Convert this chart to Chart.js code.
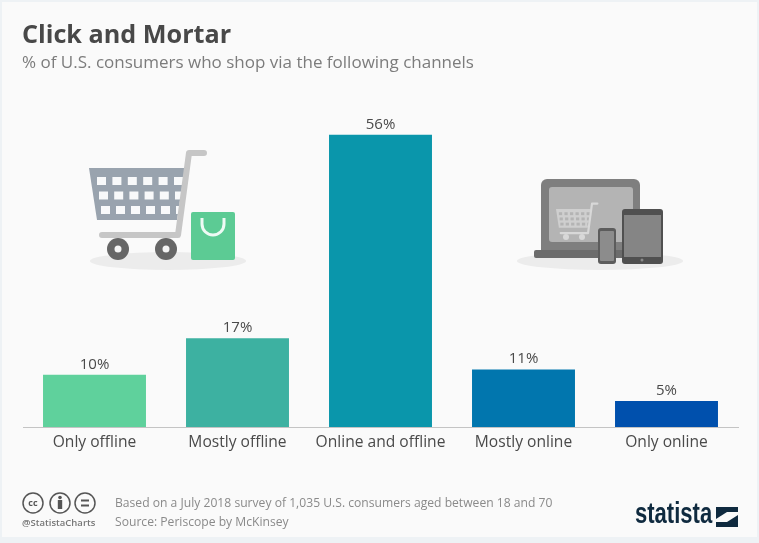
<!DOCTYPE html>
<html>
<head>
<meta charset="utf-8">
<script src="https://cdn.jsdelivr.net/npm/chart.js@4"></script>
<style>
html, body { margin: 0; padding: 0; width: 759px; height: 543px; overflow: hidden; background: #eef2f5; font-family: "Open Sans", sans-serif; }
#card { position: absolute; left: 2px; top: 2px; width: 755px; height: 535px; background: #fafafa; }
#chartBox { position: absolute; left: 0; top: 0; width: 759px; height: 543px; }
.txt { position: absolute; white-space: nowrap; }
#title { left: 22px; top: 16px; font-size: 25.2px; font-weight: 700; color: #484848; }
#subtitle { left: 22px; top: 50px; font-size: 17px; color: #7c7c7c; }
#note { left: 115px; top: 493px; font-size: 13px; color: #8a8a8a; transform: scaleX(0.933); transform-origin: left; }
#source { left: 115px; top: 512px; font-size: 13px; color: #8a8a8a; transform: scaleX(0.933); transform-origin: left; }
#handle { left: 22px; top: 516px; font-size: 9.5px; font-weight: 600; color: #777; }
#logo { left: 635px; top: 497px; font-family: "Liberation Sans", sans-serif; font-size: 29px; font-weight: 700; color: #0f2a3f; transform: scaleX(0.76); transform-origin: left; }
</style>
</head>
<body>
<div id="card"></div>
<div id="chartBox"><canvas id="clickChart"></canvas></div>
<div class="txt" id="title">Click and Mortar</div>
<div class="txt" id="subtitle">% of U.S. consumers who shop via the following channels</div>
<div class="txt" id="note">Based on a July 2018 survey of 1,035 U.S. consumers aged between 18 and 70</div>
<div class="txt" id="source">Source: Periscope by McKinsey</div>
<div class="txt" id="handle">@StatistaCharts</div>
<div class="txt" id="logo">statista</div>
<script>
// Chart data
const channels = ['Only offline', 'Mostly offline', 'Online and offline', 'Mostly online', 'Only online'];
const shares = [10, 17, 56, 11, 5];
const barColors = ['#5fd19c', '#3db1a1', '#0a96ab', '#0176ae', '#0050ad'];

function roundBox(c, x, y, w, h, r, fill) {
    c.fillStyle = fill;
    c.beginPath();
    c.roundRect(x, y, w, h, r);
    c.fill();
}

function oval(c, x, y, rx, ry, fill) {
    c.fillStyle = fill;
    c.beginPath();
    c.ellipse(x, y, rx, ry, 0, 0, Math.PI * 2);
    c.fill();
}

function drawBasket(c, x, y, s, metal, holes, frame) {
    // x, y = top left of the basket, s = scale
    c.fillStyle = metal;
    c.beginPath();
    c.moveTo(x, y);
    c.lineTo(x + 96 * s, y);
    c.lineTo(x + 88 * s, y + 52 * s);
    c.lineTo(x + 8 * s, y + 52 * s);
    c.closePath();
    c.fill();
    c.fillStyle = holes;
    for (let row = 0; row < 3; row++) {
        for (let col = 0; col < 6; col++) {
            c.fillRect(x + (8 + row * 2 + col * (15.4 - row * 0.2)) * s, y + (9 + row * 14.5) * s, 9 * s, 8 * s);
        }
    }
    c.strokeStyle = frame;
    c.lineCap = 'round';
    c.lineJoin = 'round';
    c.lineWidth = 6 * s;
    c.beginPath();
    c.moveTo(x + 115 * s, y - 15 * s);
    c.lineTo(x + 100 * s, y - 15 * s);
    c.lineTo(x + 89 * s, y + 67 * s);
    c.lineTo(x + 13 * s, y + 67 * s);
    c.stroke();
}

// Icons and the value labels
const decorations = {
    id: 'decorations',
    afterDatasetsDraw(chart) {
        const c = chart.ctx;
        c.save();

        // shopping cart
        oval(c, 168, 261, 78, 9, '#ececec');
        drawBasket(c, 89, 168, 1, '#99a3ae', '#f8f9fa', '#c6c6c6');
        [[118, 249], [166, 249]].forEach(w => {
            oval(c, w[0], w[1], 11, 11, '#666666');
            oval(c, w[0], w[1], 3.5, 3.5, '#f4f4f4');
        });
        roundBox(c, 191, 212, 44, 48, 2, '#5ccb94');
        c.strokeStyle = '#eefaf4';
        c.lineWidth = 3;
        c.lineCap = 'butt';
        c.beginPath();
        c.moveTo(202, 218);
        c.lineTo(202, 224);
        c.arc(213, 224, 11, Math.PI, 0, true);
        c.lineTo(224, 218);
        c.stroke();

        // laptop, phone and tablet
        oval(c, 600, 261, 83, 9, '#ececec');
        roundBox(c, 541, 179, 99, 78, 6, '#7f7f7f');
        roundBox(c, 549, 187, 84, 55, 3, '#b4b4b4');
        roundBox(c, 534, 250, 110, 8, 2, '#6c6c6c');
        drawBasket(c, 556, 209, 0.36, '#cfcfcf', '#b4b4b4', '#d8d8d8');
        oval(c, 566, 237, 3, 3, '#d8d8d8');
        oval(c, 582, 237, 3, 3, '#d8d8d8');
        roundBox(c, 622, 209, 41, 55, 3, '#505050');
        c.fillStyle = '#858585';
        c.fillRect(624, 215, 37, 42);
        oval(c, 642, 260, 1.5, 1.5, '#8a8a8a');
        roundBox(c, 598, 228, 18, 36, 3, '#5c5c5c');
        roundBox(c, 600, 231, 14, 30, 1, '#8c8c8c');

        // creative commons badges
        c.strokeStyle = '#555555';
        c.lineWidth = 1.5;
        [33, 60, 85].forEach(x => {
            c.beginPath();
            c.arc(x, 503, 10, 0, Math.PI * 2);
            c.stroke();
        });
        c.fillStyle = '#555555';
        c.font = '700 9px "Open Sans"';
        c.textAlign = 'center';
        c.textBaseline = 'middle';
        c.fillText('cc', 33, 503);
        oval(c, 60, 497.5, 1.8, 1.8, '#555555');
        c.fillRect(57.8, 500, 4.4, 9);
        c.fillRect(81, 499.5, 8, 2);
        c.fillRect(81, 504.5, 8, 2);

        // statista mark
        c.fillStyle = '#0f2a3f';
        c.fillRect(716, 507, 22, 20);
        c.fillStyle = '#fafafa';
        c.beginPath();
        c.moveTo(716, 519);
        c.lineTo(727, 512);
        c.lineTo(738, 512);
        c.lineTo(738, 515);
        c.lineTo(727, 522);
        c.lineTo(716, 522);
        c.closePath();
        c.fill();

        // value labels over the bars
        c.fillStyle = '#4a4a4a';
        c.font = '15px "Open Sans"';
        c.textAlign = 'center';
        c.textBaseline = 'bottom';
        chart.getDatasetMeta(0).data.forEach((bar, i) => {
            c.fillText(shares[i] + '%', bar.x, bar.y - 3);
        });
        c.restore();
    }
};

const ctx = document.getElementById('clickChart').getContext('2d');
const clickChart = new Chart(ctx, {
    type: 'bar',
    data: {
        labels: channels,
        datasets: [{
            label: '% of U.S. consumers',
            data: shares,
            backgroundColor: barColors,
            borderWidth: 0,
            categoryPercentage: 1,
            barPercentage: 0.72
        }]
    },
    plugins: [decorations],
    options: {
        responsive: true,
        maintainAspectRatio: false,
        animation: false,
        layout: {
            padding: { left: 23, right: 21, top: 114, bottom: 0 }
        },
        plugins: {
            legend: { display: false },
            tooltip: { enabled: false }
        },
        scales: {
            x: {
                afterFit(scale) { scale.height = 116; },
                grid: { display: false, drawTicks: false },
                border: { color: '#c4c4c4', width: 1 },
                ticks: {
                    color: '#4a4a4a',
                    font: { family: '"Open Sans"', size: 15.6 },
                    padding: 6,
                    maxRotation: 0
                }
            },
            y: {
                display: false,
                min: 0,
                max: 60
            }
        }
    }
});
</script>
</body>
</html>
